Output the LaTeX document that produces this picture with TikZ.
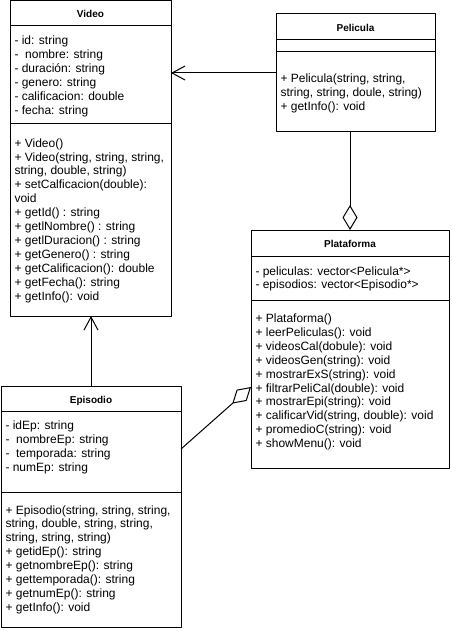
\documentclass[tikz,border=0pt]{standalone}
\usepackage{fontspec}
\setmainfont{Liberation Sans}
\usetikzlibrary{arrows.meta}
\tikzset{
  cls/.style={draw,line width=1pt,anchor=north west,inner sep=0pt,outer sep=0pt},
  ttl/.style={anchor=base,inner sep=0pt,font=\bfseries},
  row/.style={anchor=base west,inner sep=0pt},
  agg/.style={{Diamond[open,length=25pt,width=15pt]}-},
}
\begin{document}
\begin{tikzpicture}[x=1pt,y=-1pt,>={Straight Barb[length=13pt,width=14pt]},line join=round,line width=1pt,font=\fontsize{12}{14}\selectfont]
\useasboundingbox (0,0) rectangle (451,631);
% clases
\node[cls,minimum width=161pt,minimum height=315pt] (video) at (10,1) {};
\node[cls,minimum width=159pt,minimum height=118pt] (pelicula) at (276,14) {};
\node[cls,minimum width=198pt,minimum height=238pt] (plataforma) at (251,230) {};
\node[cls,minimum width=180pt,minimum height=241pt] (episodio) at (1,386) {};
\draw (video.west |- 0,26) -- (video.east |- 0,26)
  (video.west |- 0,124) -- (video.east |- 0,124)
  (pelicula.west |- 0,40) -- (pelicula.east |- 0,40)
  (pelicula.west |- 0,52) -- (pelicula.east |- 0,52)
  (plataforma.west |- 0,256) -- (plataforma.east |- 0,256)
  (plataforma.west |- 0,300) -- (plataforma.east |- 0,300)
  (episodio.west |- 0,411) -- (episodio.east |- 0,411)
  (episodio.west |- 0,492) -- (episodio.east |- 0,492);
% titulos
\node[ttl] (vt) at (90.5,18) {Video};
\node[ttl] (pt) at (355.5,31.5) {Pelicula};
\node[ttl] (plt) at (350,247.5) {Plataforma};
\node[ttl] (et) at (91,403) {Episodio};
% Video
\foreach \t [count=\i] in {{- id: string},{-\ \ nombre: string},{- duración: string},{- genero: string},{- calificacion: double},{- fecha: string}}
  \node[row] (va\i) at (14,{45+13.9*(\i-1)}) {\t};
\foreach \t [count=\i] in {{+ Video()},{+ Video(string, string, string,},{string, double, string)},{+ setCalficacion(double):},{void},{+ getId() : string},{+ getlNombre() : string},{+ getlDuracion() : string},{+ getGenero() : string},{+ getCalificacion(): double},{+ getFecha(): string},{+ getInfo(): void}}
  \node[row] (vm\i) at (14,{147.2+13.9*(\i-1)}) {\t};
% Pelicula
\foreach \t [count=\i] in {{+ Pelicula(string, string,},{string, string, doule, string)},{+ getInfo(): void}}
  \node[row] (pm\i) at (280,{82.5+14*(\i-1)}) {\t};
% Plataforma
\foreach \t [count=\i] in {{- peliculas: vector<Pelicula*>},{- episodios: vector<Episodio*>}}
  \node[row] (pla\i) at (255,{275+13.9*(\i-1)}) {\t};
\foreach \t [count=\i] in {{+ Plataforma()},{+ leerPeliculas(): void},{+ videosCal(dobule): void},{+ videosGen(string): void},{+ mostrarExS(string): void},{+ filtrarPeliCal(double): void},{+ mostrarEpi(string): void},{+ calificarVid(string, double): void},{+ promedioC(string): void},{+ showMenu(): void}}
  \node[row] (plm\i) at (255,{322.5+13.9*(\i-1)}) {\t};
% Episodio
\foreach \t [count=\i] in {{- idEp: string},{-\ \ nombreEp: string},{-\ \ temporada: string},{- numEp: string}}
  \node[row] (ea\i) at (5,{429.5+13.9*(\i-1)}) {\t};
\foreach \t [count=\i] in {{+ Episodio(string, string, string,},{string, double, string, string,},{string, string, string)},{+ getidEp(): string},{+ getnombreEp(): string},{+ gettemporada(): string},{+ getnumEp(): string},{+ getInfo(): void}}
  \node[row] (em\i) at (5,{514+13.9*(\i-1)}) {\t};
% relaciones
\draw[->] (pelicula.west) -- (pelicula.west -| video.east);
\draw[->] (episodio.north) -- (episodio.north |- video.south);
\draw[agg] (plataforma.north) -- (plataforma.north |- pelicula.south);
\draw[agg] (plataforma.west |- 0,387) -- (episodio.east |- 0,449);
\end{tikzpicture}
\end{document}
